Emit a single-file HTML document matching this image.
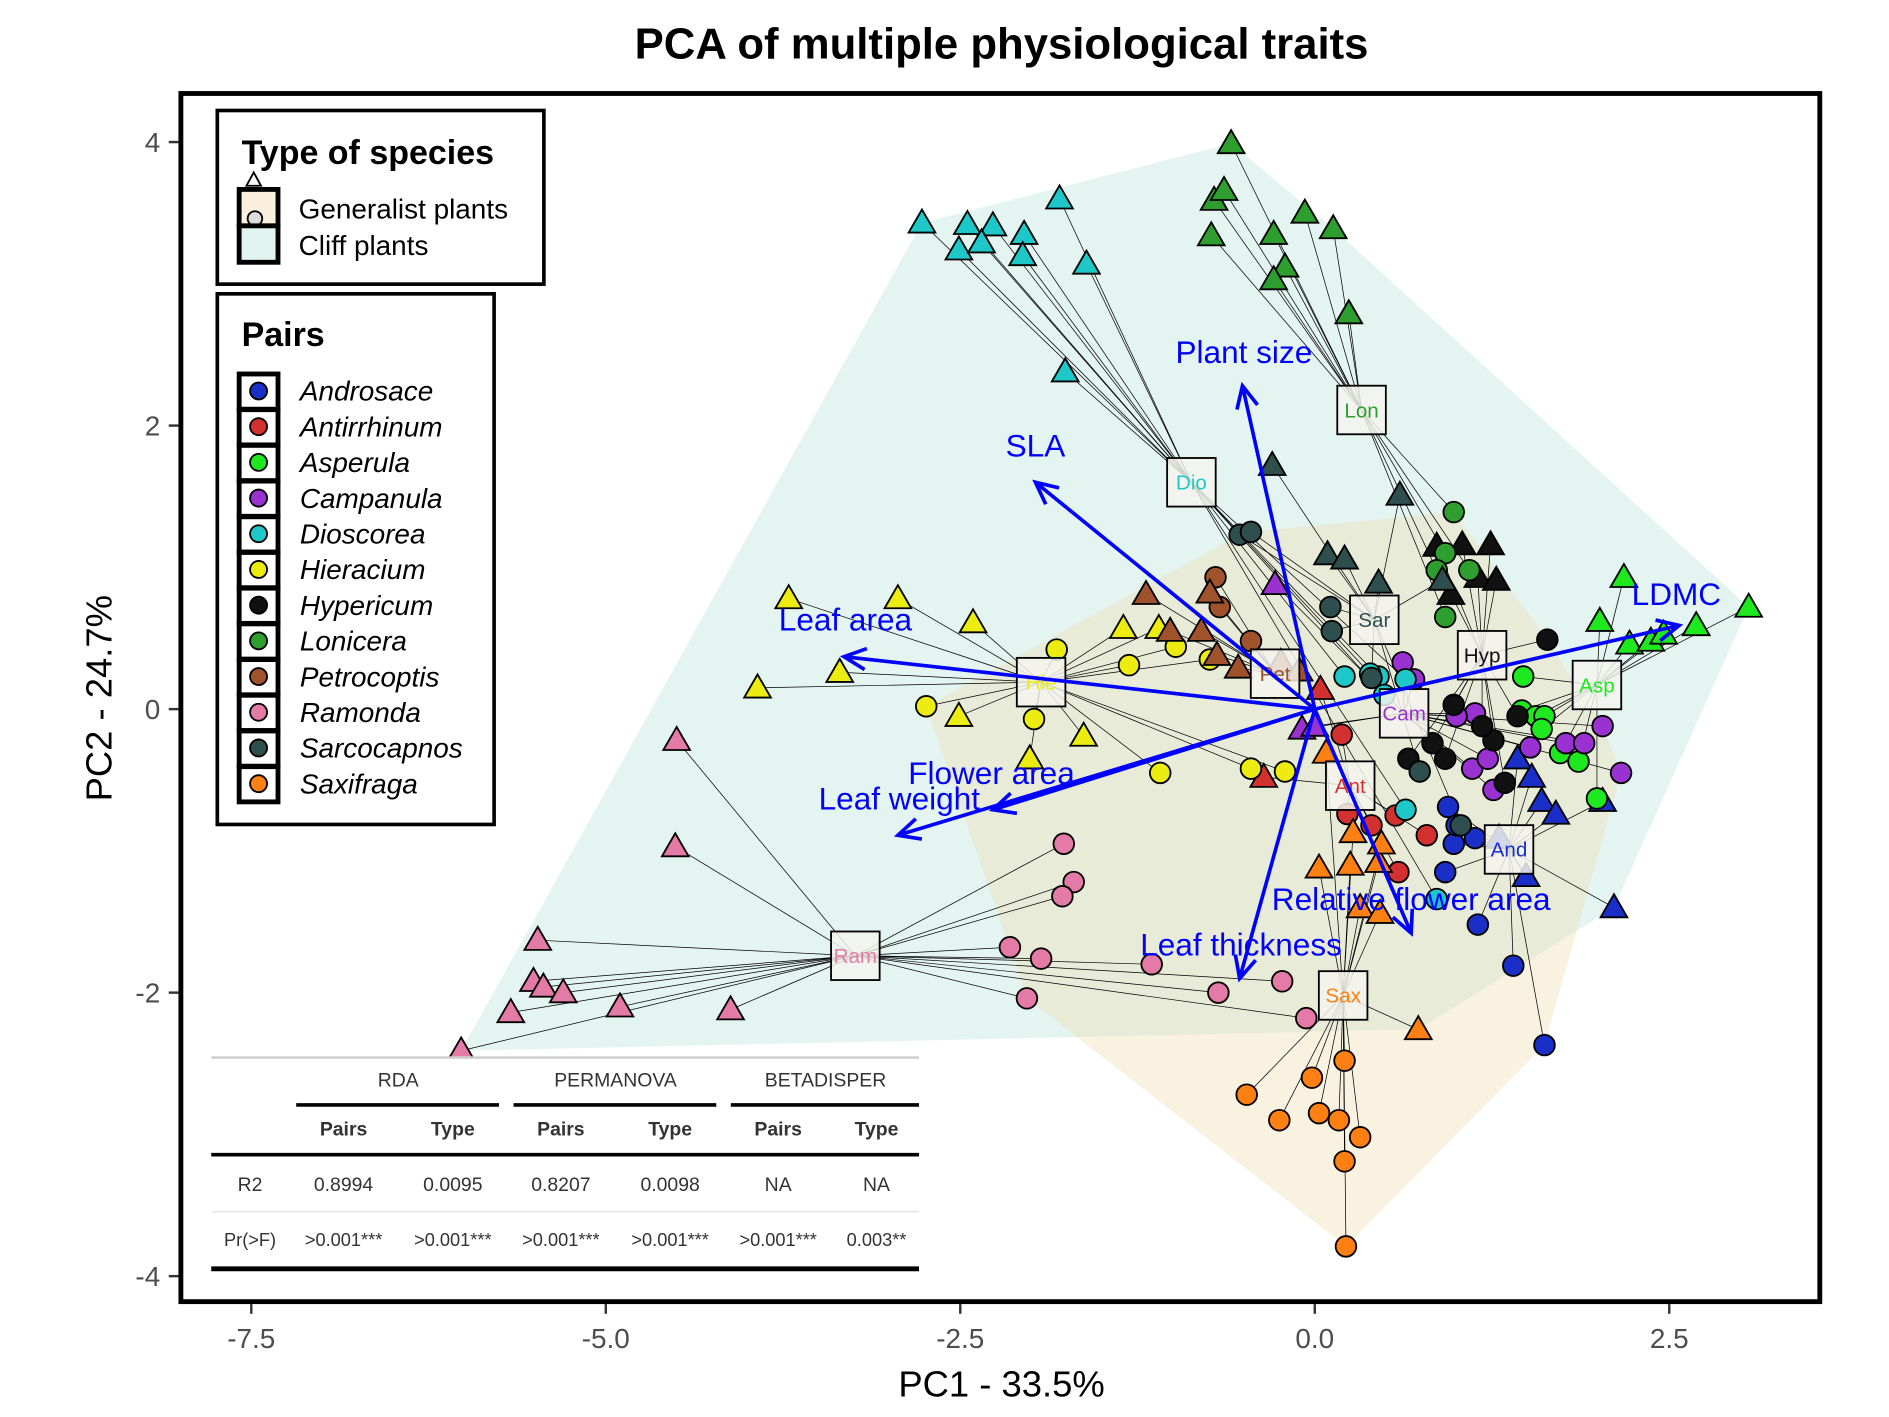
<!DOCTYPE html>
<html><head><meta charset="utf-8"><style>
html,body{margin:0;padding:0;background:#fff}
svg{display:block}
text{font-family:"Liberation Sans",Arial,sans-serif}
</style></head><body>
<svg id="chart" width="1889" height="1417" viewBox="0 0 1556 1167" preserveAspectRatio="none" xmlns="http://www.w3.org/2000/svg">
<rect width="1556" height="1167" fill="#fff"/>
<text x="825" y="48" text-anchor="middle" font-size="36" font-weight="bold">PCA of multiple physiological traits</text>
<g id="hulls"></g><g id="segs"></g><g id="pts"></g><g id="cents"></g><g id="arrows"></g>
<rect x="149" y="77" width="1350" height="995" fill="none" stroke="#000" stroke-width="4"/>
<g id="axes"></g>
<text x="825" y="1150" text-anchor="middle" font-size="30">PC1 - 33.5%</text>
<text transform="translate(92,575) rotate(-90)" text-anchor="middle" font-size="30">PC2 - 24.7%</text>

<g>
<rect x="179" y="91" width="269" height="143" fill="#fff" stroke="#000" stroke-width="3"/>
<text x="199" y="135" font-size="28" font-weight="bold">Type of species</text>
<rect x="197" y="156" width="32" height="30" fill="#faefdc" stroke="#000" stroke-width="4"/>
<polygon points="209,142 203,153 215,153" fill="#fff" stroke="#000" stroke-width="1.5"/>
<circle cx="210" cy="180" r="6" fill="#ddd" stroke="#000" stroke-width="1.5"/>
<rect x="197" y="186" width="32" height="30" fill="#e2f4f0" stroke="#000" stroke-width="4"/>
<text x="246" y="180" font-size="23">Generalist plants</text>
<text x="246" y="210" font-size="23">Cliff plants</text>
</g>
<g id="pairs-legend">
<rect x="179" y="242" width="228" height="437" fill="#fff" stroke="#000" stroke-width="3"/>
<text x="199" y="285" font-size="28" font-weight="bold">Pairs</text>
</g>

<g font-size="16" fill="#333">
<rect x="174" y="870" width="583" height="178" fill="#fff"/>
<line x1="174" y1="871" x2="757" y2="871" stroke="#ccc" stroke-width="2"/>
<text x="328" y="895" text-anchor="middle">RDA</text>
<text x="507" y="895" text-anchor="middle">PERMANOVA</text>
<text x="680" y="895" text-anchor="middle">BETADISPER</text>
<line x1="244" y1="910" x2="411" y2="910" stroke="#000" stroke-width="3"/>
<line x1="423" y1="910" x2="590" y2="910" stroke="#000" stroke-width="3"/>
<line x1="602" y1="910" x2="757" y2="910" stroke="#000" stroke-width="3"/>
<g font-weight="bold"><text x="283" y="935" text-anchor="middle">Pairs</text><text x="373" y="935" text-anchor="middle">Type</text><text x="462" y="935" text-anchor="middle">Pairs</text><text x="552" y="935" text-anchor="middle">Type</text><text x="641" y="935" text-anchor="middle">Pairs</text><text x="722" y="935" text-anchor="middle">Type</text></g>
<line x1="174" y1="951" x2="757" y2="951" stroke="#000" stroke-width="3"/>
<text x="206" y="981" text-anchor="middle">R2</text><text x="283" y="981" text-anchor="middle">0.8994</text><text x="373" y="981" text-anchor="middle">0.0095</text><text x="462" y="981" text-anchor="middle">0.8207</text><text x="552" y="981" text-anchor="middle">0.0098</text><text x="641" y="981" text-anchor="middle">NA</text><text x="722" y="981" text-anchor="middle">NA</text>
<line x1="174" y1="998" x2="757" y2="998" stroke="#ddd" stroke-width="1"/>
<g font-size="15"><text x="206" y="1026" text-anchor="middle">Pr(&gt;F)</text><text x="283" y="1026" text-anchor="middle">&gt;0.001***</text><text x="373" y="1026" text-anchor="middle">&gt;0.001***</text><text x="462" y="1026" text-anchor="middle">&gt;0.001***</text><text x="552" y="1026" text-anchor="middle">&gt;0.001***</text><text x="641" y="1026" text-anchor="middle">&gt;0.001***</text><text x="722" y="1026" text-anchor="middle">0.003**</text></g>
<line x1="174" y1="1045" x2="757" y2="1045" stroke="#000" stroke-width="4"/>
</g>
</svg>
<script>
const xTicks=[-7.5,-5.0,-2.5,0.0,2.5];
const yTicks=[4,2,0,-2,-4];
const genera=["Androsace","Antirrhinum","Asperula","Campanula","Dioscorea","Hieracium","Hypericum","Lonicera","Petrocoptis","Ramonda","Sarcocapnos","Saxifraga"];
const abbrev=["And","Ant","Asp","Cam","Dio","Hie","Hyp","Lon","Pet","Ram","Sar","Sax"];
const colors=["#1a2fc8","#d33030","#1ee81e","#9a32d2","#1ec8c8","#ecec10","#111111","#2e9e2e","#a0522d","#e47aa6","#2f4f4f","#ff8012"];
const centroids=[[1.37,-0.99],[0.25,-0.54],[1.99,0.17],[0.63,-0.03],[-0.87,1.60],[-1.93,0.19],[1.18,0.38],[0.33,2.11],[-0.28,0.25],[-3.24,-1.74],[0.42,0.63],[0.20,-2.02]];
const cliffPts=[
[[1.43,-0.35],[1.53,-0.48],[1.60,-0.65],[1.70,-0.74],[2.03,-0.65],[2.11,-1.40],[1.30,-0.91],[1.49,-1.18]],
[[-0.36,-0.48],[0.04,0.14]],
[[2.18,0.93],[2.01,0.62],[2.22,0.46],[2.37,0.48],[2.69,0.59],[3.06,0.72],[2.46,0.53]],
[[-0.28,0.88],[-0.09,-0.14],[0.00,-0.12]],
[[-2.77,3.43],[-2.45,3.42],[-2.27,3.41],[-2.51,3.24],[-2.35,3.29],[-2.05,3.35],[-2.06,3.20],[-1.80,3.60],[-1.61,3.14],[-1.76,2.38]],
[[-3.71,0.78],[-2.94,0.78],[-2.41,0.61],[-3.35,0.26],[-3.93,0.15],[-2.51,-0.05],[-2.01,-0.35],[-1.63,-0.19],[-1.35,0.57],[-1.10,0.57]],
[[0.86,1.15],[1.04,1.16],[1.24,1.16],[1.15,0.93],[1.28,0.91],[0.96,0.81]],
[[-0.59,3.99],[-0.71,3.59],[-0.64,3.66],[-0.73,3.34],[-0.29,3.35],[-0.07,3.50],[0.13,3.39],[-0.21,3.12],[-0.29,3.03],[0.24,2.79]],
[[-1.19,0.81],[-0.74,0.82],[-1.02,0.55],[-0.80,0.55],[-0.69,0.38],[-0.54,0.29],[-0.24,0.33],[-0.11,0.27]],
[[-4.50,-0.22],[-4.51,-0.97],[-5.48,-1.63],[-5.51,-1.92],[-5.44,-1.96],[-5.30,-2.00],[-5.67,-2.14],[-4.90,-2.10],[-4.12,-2.12],[-6.02,-2.41]],
[[-0.30,1.72],[0.60,1.51],[0.09,1.09],[0.21,1.06],[0.45,0.89],[0.90,0.91]],
[[0.03,-1.12],[0.25,-1.10],[0.45,-1.08],[0.27,-0.87],[0.32,-1.40],[0.46,-1.44],[0.73,-2.26],[0.08,-0.31],[0.47,-0.95]]
];
const generalistPts=[
[[0.94,-0.69],[0.98,-0.95],[1.00,-0.82],[1.13,-0.91],[0.92,-1.15],[1.15,-1.52],[1.40,-1.81],[1.62,-2.37]],
[[0.19,-0.18],[0.57,-0.75],[0.79,-0.89],[0.59,-1.15],[0.40,-0.82],[0.23,-0.74]],
[[1.47,0.23],[1.46,-0.01],[1.56,-0.05],[1.62,-0.05],[1.73,-0.31],[1.86,-0.37],[1.99,-0.63],[1.60,-0.14]],
[[0.62,0.33],[0.70,0.21],[1.13,-0.03],[1.11,-0.42],[1.22,-0.35],[1.26,-0.57],[1.52,-0.27],[1.77,-0.24],[1.90,-0.24],[2.16,-0.45],[1.00,-0.05],[2.03,-0.12]],
[[0.21,0.23],[0.45,0.23],[0.39,0.25],[0.64,0.21],[0.49,0.10],[0.64,-0.71],[0.86,-1.34]],
[[-2.74,0.02],[-1.98,-0.07],[-1.82,0.42],[-1.31,0.31],[-0.98,0.44],[-0.74,0.35],[-1.09,-0.45],[-0.21,-0.44],[-0.45,-0.42]],
[[1.64,0.49],[0.66,-0.35],[0.92,-0.35],[1.43,-0.05],[1.26,-0.22],[0.98,0.03],[1.18,-0.12],[1.34,-0.52],[0.83,-0.24]],
[[0.98,1.39],[0.92,1.10],[0.86,0.98],[0.92,0.65],[1.09,0.98]],
[[-0.70,0.93],[-0.67,0.72],[-0.45,0.48]],
[[-1.77,-0.95],[-1.70,-1.22],[-1.78,-1.32],[-2.15,-1.68],[-1.93,-1.76],[-2.03,-2.04],[-1.15,-1.80],[-0.68,-2.00],[-0.23,-1.92],[-0.06,-2.18]],
[[-0.53,1.23],[-0.45,1.25],[0.11,0.72],[0.12,0.55],[0.40,0.22],[0.74,-0.44],[1.03,-0.82]],
[[-0.48,-2.72],[-0.25,-2.90],[-0.02,-2.60],[0.03,-2.85],[0.17,-2.90],[0.21,-2.48],[0.32,-3.02],[0.21,-3.19],[0.22,-3.79]]
];
const traitNames=["Plant size","SLA","Leaf area","Flower area","Leaf weight","LDMC","Relative flower area","Leaf thickness"];
const loadings=[[-0.51,2.28],[-1.97,1.60],[-3.32,0.37],[-2.27,-0.71],[-2.94,-0.89],[2.57,0.59],[0.68,-1.58],[-0.53,-1.90]];
const labelPos=[[-0.50,2.52],[-1.97,1.86],[-3.31,0.63],[-2.28,-0.45],[-2.93,-0.63],[2.55,0.81],[0.68,-1.34],[-0.52,-1.66]];

const NS="http://www.w3.org/2000/svg";
const X=v=>1083+v*116.8, Y=v=>584-v*116.75;
function mk(tag,attrs,parent){const e=document.createElementNS(NS,tag);for(const k in attrs)e.setAttribute(k,attrs[k]);parent.appendChild(e);return e;}
const $=id=>document.getElementById(id);

// axes
xTicks.forEach(t=>{
 const tk=mk('line',{x1:X(t),x2:X(t),y1:1074,y2:1082,stroke:'#333','stroke-width':2},$('axes'));
 
 
 const tx=mk('text',{x:X(t),y:1110,'text-anchor':'middle','font-size':23,fill:'#4d4d4d'},$('axes'));
 
 
 tx.textContent=t.toFixed(1);
});
yTicks.forEach(t=>{
 const tk=mk('line',{x1:139,x2:147,y1:Y(t),y2:Y(t),stroke:'#333','stroke-width':2},$('axes'));
 
 
 const tx=mk('text',{x:132,y:Y(t)+8,'text-anchor':'end','font-size':23,fill:'#4d4d4d'},$('axes'));
 
 
 tx.textContent=t;
});

// hulls
function hull(p){p=p.slice().sort((a,b)=>a[0]-b[0]||a[1]-b[1]);const c=(o,a,b)=>(a[0]-o[0])*(b[1]-o[1])-(a[1]-o[1])*(b[0]-o[0]);const lo=[],up=[];for(const q of p){while(lo.length>=2&&c(lo[lo.length-2],lo[lo.length-1],q)<=0)lo.pop();lo.push(q);}for(const q of p.slice().reverse()){while(up.length>=2&&c(up[up.length-2],up[up.length-1],q)<=0)up.pop();up.push(q);}return lo.slice(0,-1).concat(up.slice(0,-1));}
const h1=hull(cliffPts.flat()).map(p=>X(p[0])+','+Y(p[1])).join(' ');
const h2=hull(generalistPts.flat()).map(p=>X(p[0])+','+Y(p[1])).join(' ');
const hc=mk('polygon',{points:h1,fill:'#9fd8cb','fill-opacity':0.28},$('hulls'));


const hg=mk('polygon',{points:h2,fill:'#f0d9aa','fill-opacity':0.35},$('hulls'));



// points & segments
genera.forEach((g,i)=>{
 const c=centroids[i];
 const all=[...generalistPts[i].map(p=>[p,0]),...cliffPts[i].map(p=>[p,1])];
 all.forEach(([p,tri])=>{
  const s=mk('line',{x1:X(c[0]),y1:Y(c[1]),x2:X(p[0]),y2:Y(p[1]),stroke:'#000','stroke-width':0.6},$('segs'));
  
  
  let m;
  if(tri){const x=X(p[0]),y=Y(p[1]);
   m=mk('polygon',{points:`${x},${y-11} ${x-11},${y+8} ${x+11},${y+8}`,fill:colors[i],stroke:'#000','stroke-width':1.5},$('pts'));}
  else m=mk('circle',{cx:X(p[0]),cy:Y(p[1]),r:8.5,fill:colors[i],stroke:'#000','stroke-width':1.5},$('pts'));
  
  
 });
});
genera.forEach((g,i)=>{
 const c=centroids[i];
 const r=mk('rect',{x:X(c[0])-20,y:Y(c[1])-20,width:40,height:40,fill:'#f4f4ee','fill-opacity':0.85,stroke:'#000','stroke-width':1.5},$('cents'));
 
 
 const t=mk('text',{x:X(c[0]),y:Y(c[1])+6,'text-anchor':'middle','font-size':17,fill:colors[i]},$('cents'));
 
 
 t.textContent=abbrev[i];
});
// arrows
traitNames.forEach((n,i)=>{
 const [lx,ly]=loadings[i];const x1=X(0),y1=Y(0),x2=X(lx),y2=Y(ly);
 const a=Math.atan2(y2-y1,x2-x1),h=20,w=0.45;
 const ar=mk('path',{d:`M${x1},${y1}L${x2},${y2}M${x2-h*Math.cos(a-w)},${y2-h*Math.sin(a-w)}L${x2},${y2}L${x2-h*Math.cos(a+w)},${y2-h*Math.sin(a+w)}`,stroke:'#0000ff','stroke-width':3,fill:'none'},$('arrows'));
 
 
 const t=mk('text',{x:X(labelPos[i][0]),y:Y(labelPos[i][1])+9,'text-anchor':'middle','font-size':26,fill:'#0000ff'},$('arrows'));
 
 
 t.textContent=n;
});
// pairs legend
genera.forEach((g,i)=>{
 const y=322+i*29.4;
 const r=mk('rect',{x:197,y:y-14,width:32,height:29,fill:'#fff',stroke:'#000','stroke-width':4},$('pairs-legend'));
 
 
 const c=mk('circle',{cx:213,cy:y,r:7,fill:colors[i],stroke:'#000','stroke-width':1.5},$('pairs-legend'));
 
 
 const t=mk('text',{x:247,y:y+8,'font-size':23,'font-style':'italic'},$('pairs-legend'));
 
 
 t.textContent=g;
});
</script>
</body></html>
